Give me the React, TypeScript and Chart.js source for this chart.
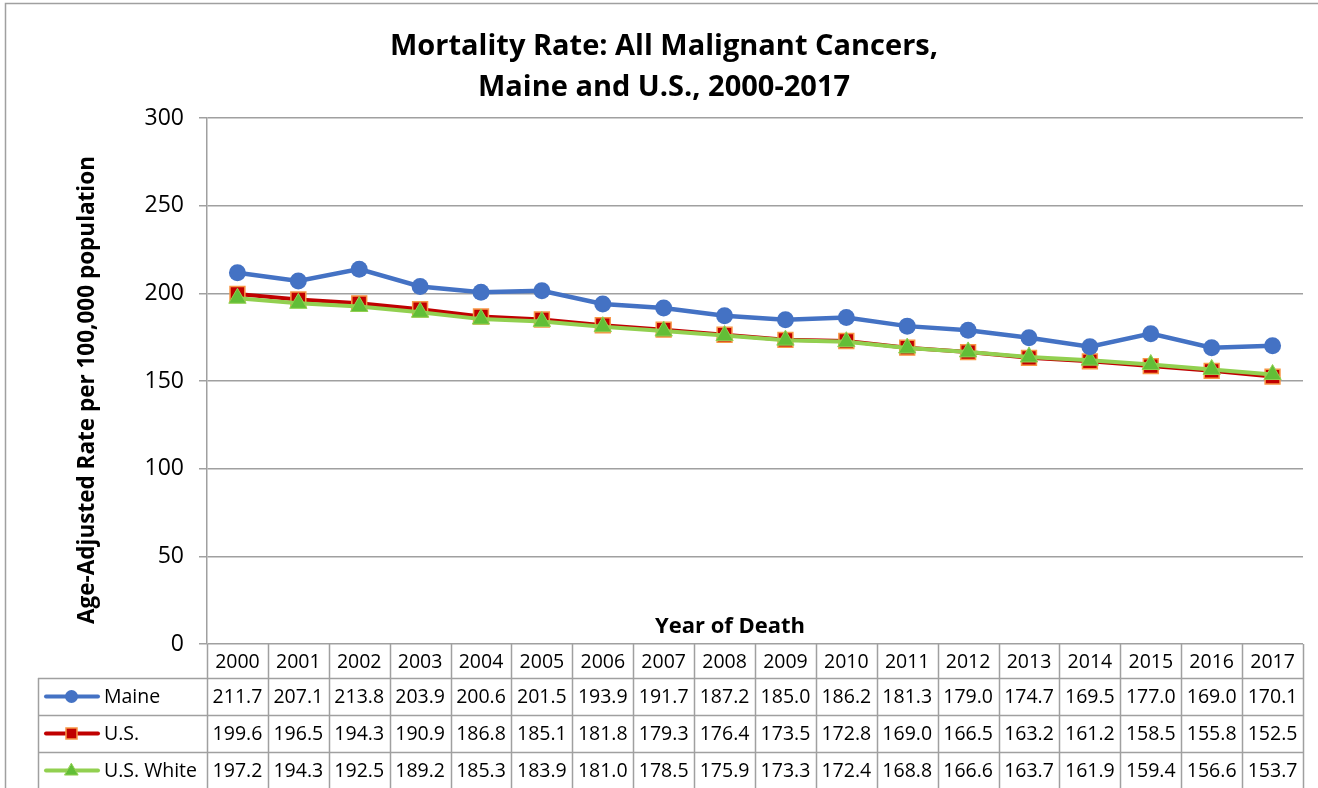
import React, { useEffect, useRef } from 'react';
import { Chart, registerables } from 'chart.js';
Chart.register(...registerables);

const years = ['2000', '2001', '2002', '2003', '2004', '2005', '2006', '2007', '2008', '2009', '2010', '2011', '2012', '2013', '2014', '2015', '2016', '2017'];
const maine = [211.7, 207.1, 213.8, 203.9, 200.6, 201.5, 193.9, 191.7, 187.2, 185.0, 186.2, 181.3, 179.0, 174.7, 169.5, 177.0, 169.0, 170.1];
const us = [199.6, 196.5, 194.3, 190.9, 186.8, 185.1, 181.8, 179.3, 176.4, 173.5, 172.8, 169.0, 166.5, 163.2, 161.2, 158.5, 155.8, 152.5];
const usWhite = [197.2, 194.3, 192.5, 189.2, 185.3, 183.9, 181.0, 178.5, 175.9, 173.3, 172.4, 168.8, 166.6, 163.7, 161.9, 159.4, 156.6, 153.7];
const seriesNames = ['Maine', 'U.S.', 'U.S. White'];
const titleLines = ['Mortality Rate: All Malignant Cancers,', 'Maine and U.S., 2000-2017'];
const yAxisTitle = 'Age-Adjusted Rate per 100,000 population';
const xAxisTitle = 'Year of Death';
const yMin = 0;
const yMax = 300;
const yStep = 50;

const FONT = "'Open Sans', 'DejaVu Sans', sans-serif";
const GRID = '#a0a0a0';
const BLUE = '#4472C4';
const RED = '#C00000';
const ORANGE = '#F79646';
const GREEN_LINE = '#92D050';
const GREEN_FILL = '#62BE37';

function drawMarker(ctx: CanvasRenderingContext2D, kind: string, x: number, y: number, r: number) {
  ctx.save();
  if (kind === 'circle') {
    ctx.fillStyle = BLUE;
    ctx.beginPath();
    ctx.arc(x, y, r, 0, Math.PI * 2);
    ctx.fill();
  } else if (kind === 'rect') {
    ctx.fillStyle = RED;
    ctx.strokeStyle = ORANGE;
    ctx.lineWidth = 1.5;
    ctx.beginPath();
    ctx.rect(x - r, y - r, 2 * r, 2 * r);
    ctx.fill();
    ctx.stroke();
  } else {
    ctx.fillStyle = GREEN_FILL;
    ctx.strokeStyle = GREEN_LINE;
    ctx.lineWidth = 1;
    ctx.beginPath();
    ctx.moveTo(x, y - r);
    ctx.lineTo(x + r * 0.95, y + r * 0.65);
    ctx.lineTo(x - r * 0.95, y + r * 0.65);
    ctx.closePath();
    ctx.fill();
    ctx.stroke();
  }
  ctx.restore();
}

const tablePlugin = {
  id: 'dataTable',
  beforeDraw(chart: any) {
    const ctx = chart.ctx as CanvasRenderingContext2D;
    ctx.save();
    ctx.strokeStyle = GRID;
    ctx.lineWidth = 1.5;
    ctx.beginPath();
    ctx.moveTo(5.5, chart.height);
    ctx.lineTo(5.5, 3.5);
    ctx.lineTo(chart.width, 3.5);
    ctx.stroke();
    ctx.restore();
  },
  afterDraw(chart: any) {
    const ctx = chart.ctx as CanvasRenderingContext2D;
    const area = chart.chartArea;
    const xs = chart.scales.x;
    const n = years.length;
    const colW = area.width / n;
    const headerTop = area.bottom;
    const headerH = 34;
    const rowH = 37;
    const labelLeft = 38;
    const bottom = chart.height + 2;
    ctx.save();
    ctx.strokeStyle = GRID;
    ctx.lineWidth = 1.5;
    ctx.beginPath();
    for (let i = 0; i <= n; i++) {
      const x = Math.round(area.left + i * colW) + 0.5;
      ctx.moveTo(x, headerTop);
      ctx.lineTo(x, bottom);
    }
    ctx.moveTo(labelLeft + 0.5, headerTop + headerH);
    ctx.lineTo(labelLeft + 0.5, bottom);
    for (let r = 0; r <= 3; r++) {
      const y = Math.round(headerTop + headerH + r * rowH) + 0.5;
      ctx.moveTo(labelLeft, y);
      ctx.lineTo(area.right, y);
    }
    ctx.stroke();

    ctx.fillStyle = '#000';
    ctx.font = `19.5px ${FONT}`;
    ctx.textAlign = 'center';
    ctx.textBaseline = 'middle';
    for (let i = 0; i < n; i++) {
      const cx = xs.getPixelForValue(i);
      ctx.fillText(years[i], cx, headerTop + headerH / 2 + 1);
    }
    const all = [maine, us, usWhite];
    for (let r = 0; r < 3; r++) {
      const cy = headerTop + headerH + r * rowH + rowH / 2 + 1;
      for (let i = 0; i < n; i++) {
        ctx.fillText(all[r][i].toFixed(1), xs.getPixelForValue(i), cy);
      }
    }
    // legend keys
    const colors = [BLUE, RED, GREEN_LINE];
    const kinds = ['circle', 'rect', 'tri'];
    const sizes = [6.5, 5.5, 7];
    for (let r = 0; r < 3; r++) {
      const cy = headerTop + headerH + r * rowH + rowH / 2;
      ctx.strokeStyle = colors[r];
      ctx.lineWidth = 4;
      ctx.lineCap = 'round';
      ctx.beginPath();
      ctx.moveTo(46, cy);
      ctx.lineTo(98, cy);
      ctx.stroke();
      drawMarker(ctx, kinds[r], 71.5, cy, sizes[r]);
      ctx.fillStyle = '#000';
      ctx.textAlign = 'left';
      ctx.font = `19.5px ${FONT}`;
      ctx.fillText(seriesNames[r], 104, cy + 1);
    }
    // x axis title
    ctx.font = `bold 22px ${FONT}`;
    ctx.textAlign = 'center';
    ctx.fillStyle = '#000';
    ctx.fillText(xAxisTitle, (area.left + area.right) / 2 - 25, area.bottom - 17);
    // y axis title
    ctx.save();
    ctx.translate(88, (area.top + area.bottom) / 2 + 9);
    ctx.rotate(-Math.PI / 2);
    ctx.font = `bold 22.5px ${FONT}`;
    ctx.textAlign = 'center';
    ctx.textBaseline = 'middle';
    ctx.fillText(yAxisTitle, 0, 0);
    ctx.restore();
    ctx.restore();
  },
};

export default function App() {
  const ref = useRef<HTMLCanvasElement>(null);
  useEffect(() => {
    if (!ref.current) return;
    const chart = new Chart(ref.current, {
      type: 'line',
      data: {
        labels: years,
        datasets: [
          {
            label: seriesNames[0],
            data: maine,
            borderColor: BLUE,
            backgroundColor: BLUE,
            borderWidth: 4.5,
            pointStyle: 'circle',
            pointRadius: 8.5,
            pointBorderWidth: 0,
            pointBackgroundColor: BLUE,
            order: 0,
          },
          {
            label: seriesNames[1],
            data: us,
            borderColor: RED,
            backgroundColor: RED,
            borderWidth: 4,
            pointStyle: 'rect',
            pointRadius: 10.5,
            pointBorderWidth: 1.5,
            pointBorderColor: ORANGE,
            pointBackgroundColor: RED,
            order: 2,
          },
          {
            label: seriesNames[2],
            data: usWhite,
            borderColor: GREEN_LINE,
            backgroundColor: GREEN_FILL,
            borderWidth: 4,
            pointStyle: 'triangle',
            pointRadius: 10,
            pointBorderWidth: 1,
            pointBorderColor: GREEN_LINE,
            pointBackgroundColor: GREEN_FILL,
            order: 1,
          },
        ],
      },
      options: {
        responsive: false,
        animation: false,
        layout: { padding: { left: 25, right: 15, top: 0, bottom: 0 } },
        plugins: {
          legend: { display: false },
          tooltip: { enabled: false },
          title: {
            display: true,
            text: titleLines,
            color: '#000',
            font: { family: FONT, size: 29, weight: 'bold', lineHeight: 1.414 },
            padding: { top: 26, bottom: 10 },
          },
        },
        scales: {
          x: {
            type: 'category',
            offset: true,
            grid: { display: false },
            border: { display: false },
            ticks: { display: false },
            afterFit: (s: any) => { s.height = 144; },
          },
          y: {
            min: yMin,
            max: yMax,
            ticks: { stepSize: yStep, color: '#000', font: { family: FONT, size: 23 }, padding: 15 },
            grid: { color: GRID, lineWidth: 1.5, tickLength: 8 },
            border: { display: true, color: GRID, width: 1.5 },
            title: { display: false },
            afterFit: (s: any) => { s.width = 182; },
          },
        },
      },
      plugins: [tablePlugin],
    } as any);
    return () => chart.destroy();
  }, []);
  return (
    <div style={{ position: 'absolute', left: 0, top: 0, width: 1318, height: 788, background: '#fff' }}>
      <canvas ref={ref} width={1318} height={788} style={{ display: 'block' }} />
    </div>
  );
}
